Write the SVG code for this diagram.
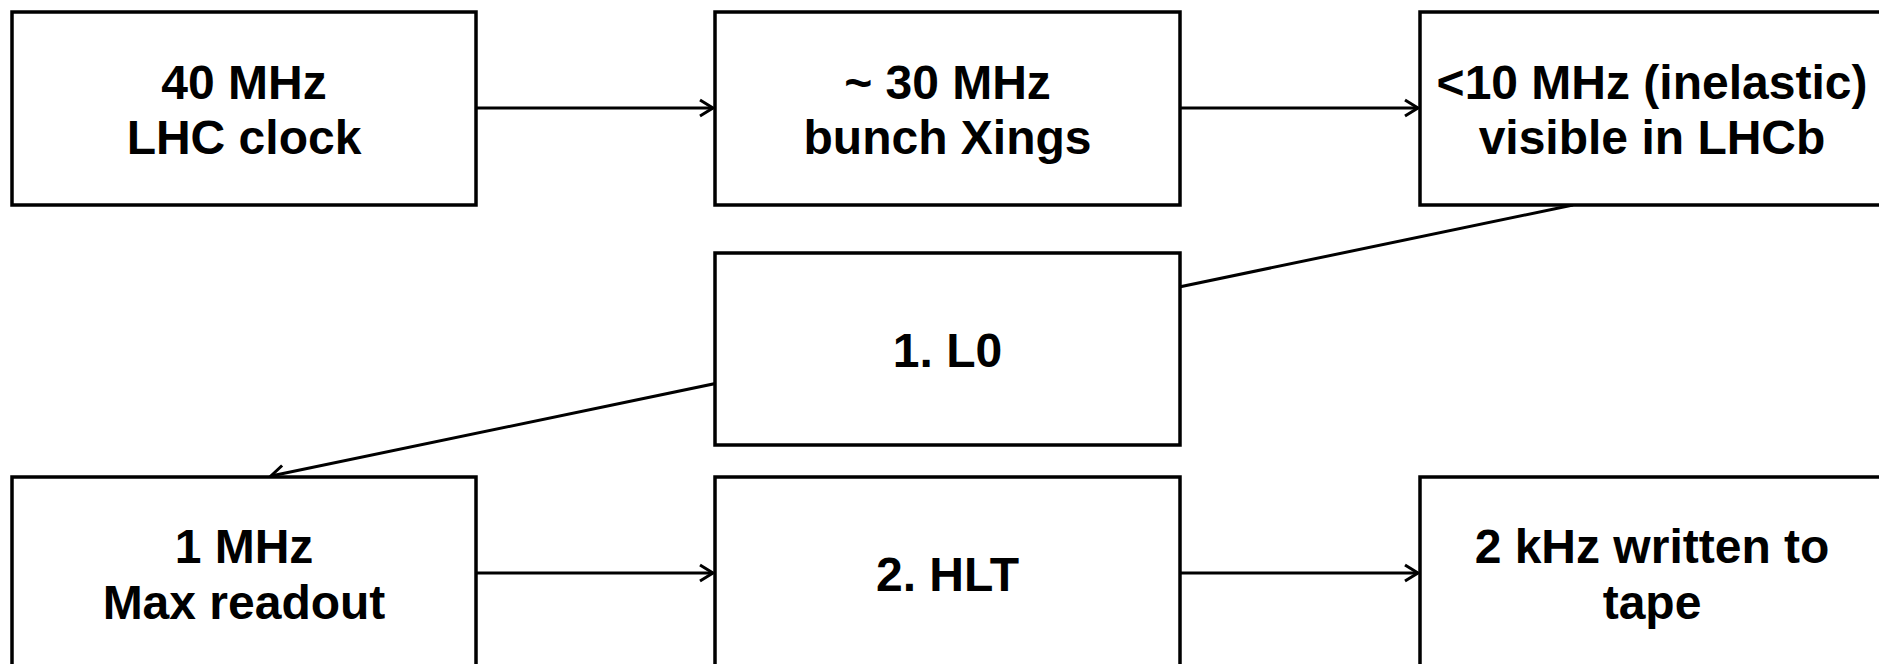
<svg xmlns="http://www.w3.org/2000/svg" width="1879" height="664" viewBox="0 0 1879 664">
<style>
.box{fill:#fff;stroke:#000;stroke-width:3.5}
.lbl{font-family:"Liberation Sans",Arial,sans-serif;font-weight:bold;font-size:48px;fill:#000;text-anchor:middle}
.conn{stroke:#000;stroke-width:3;fill:none}
</style>
<defs>
<marker id="arr" markerUnits="userSpaceOnUse" markerWidth="20" markerHeight="20" refX="14" refY="9" orient="auto" overflow="visible">
<path d="M1,1 L14,9 L1,17" fill="none" stroke="#000" stroke-width="3"/>
</marker>
</defs>
<g id="connectors">
<line class="conn" x1="1573" y1="205" x2="271" y2="476" marker-end="url(#arr)"/>
<line class="conn" x1="476" y1="108" x2="713" y2="108" marker-end="url(#arr)"/>
<line class="conn" x1="1180" y1="108" x2="1418" y2="108" marker-end="url(#arr)"/>
<line class="conn" x1="476" y1="573" x2="713" y2="573" marker-end="url(#arr)"/>
<line class="conn" x1="1180" y1="573" x2="1418" y2="573" marker-end="url(#arr)"/>
</g>
<g id="n1"><rect class="box" x="12" y="12" width="464" height="193"/>
<text class="lbl" x="244" y="99">40 MHz</text><text class="lbl" x="244" y="154">LHC clock</text></g>
<g id="n2"><rect class="box" x="715" y="12" width="465" height="193"/>
<text class="lbl" x="947.5" y="99">~ 30 MHz</text><text class="lbl" x="947.5" y="154">bunch Xings</text></g>
<g id="n3"><rect class="box" x="1420" y="12" width="465" height="193"/>
<text class="lbl" x="1652" y="99">&lt;10 MHz (inelastic)</text><text class="lbl" x="1652" y="154">visible in LHCb</text></g>
<g id="n4"><rect class="box" x="715" y="253" width="465" height="192"/>
<text class="lbl" x="947.5" y="367">1. L0</text></g>
<g id="n5"><rect class="box" x="12" y="477" width="464" height="193"/>
<text class="lbl" x="244" y="563">1 MHz</text><text class="lbl" x="244" y="619">Max readout</text></g>
<g id="n6"><rect class="box" x="715" y="477" width="465" height="193"/>
<text class="lbl" x="947.5" y="591">2. HLT</text></g>
<g id="n7"><rect class="box" x="1420" y="477" width="465" height="193"/>
<text class="lbl" x="1652" y="563">2 kHz written to</text><text class="lbl" x="1652" y="619">tape</text></g>
</svg>
